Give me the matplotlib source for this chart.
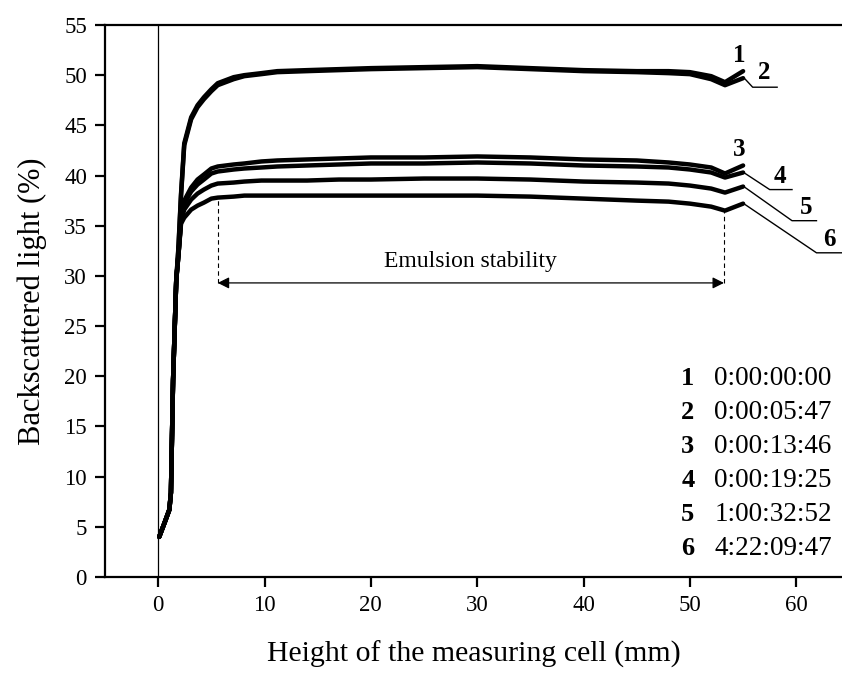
import matplotlib
matplotlib.use('Agg')
import matplotlib.pyplot as plt

# === Global formatting
plt.rcParams['font.family'] = ['Liberation Serif', 'DejaVu Serif']
plt.rcParams['xtick.direction'] = 'out'
plt.rcParams['ytick.direction'] = 'out'
plt.rcParams['xtick.major.size'] = 7
plt.rcParams['ytick.major.size'] = 7
plt.rcParams['xtick.major.width'] = 1.6
plt.rcParams['ytick.major.width'] = 1.6
plt.rcParams['xtick.major.pad'] = 6
plt.rcParams['ytick.major.pad'] = 6
plt.rcParams['axes.linewidth'] = 1.6
plt.rcParams['xtick.labelsize'] = 16.5
plt.rcParams['ytick.labelsize'] = 16.5

# === Data
height_mm = [0.1, 0.6, 1.05, 1.2, 1.4, 1.7, 1.9, 2.15, 2.45, 3.1, 3.7, 4.3,
             5.0, 5.6, 7.1, 8.1, 9.7, 11.2, 14, 17, 20, 25, 30, 35, 40, 45,
             48, 50, 52, 53.3, 55]

bs_1 = [4.0, 5.4, 6.7, 8.4, 19.6, 29.6, 32.8, 38.2, 43.2, 45.8, 47.0, 47.8,
        48.6, 49.2, 49.8, 50.0, 50.2, 50.4, 50.5, 50.6, 50.7, 50.8, 50.9,
        50.7, 50.5, 50.4, 50.4, 50.3, 49.9, 49.3, 50.4]
bs_2 = [4.0, 5.4, 6.7, 8.4, 19.6, 29.6, 32.6, 38.0, 43.0, 45.6, 46.8, 47.6,
        48.4, 49.0, 49.6, 49.9, 50.1, 50.3, 50.4, 50.5, 50.6, 50.7, 50.8,
        50.6, 50.4, 50.3, 50.2, 50.1, 49.6, 49.0, 49.7]
bs_3 = [4.0, 5.4, 6.7, 8.4, 19.6, 29.6, 32.0, 35.6, 37.5, 38.8, 39.6, 40.1,
        40.7, 40.9, 41.1, 41.2, 41.4, 41.5, 41.6, 41.7, 41.8, 41.8, 41.9,
        41.8, 41.6, 41.5, 41.3, 41.1, 40.8, 40.2, 41.0]
bs_4 = [4.0, 5.4, 6.7, 8.4, 19.6, 29.6, 32.0, 35.6, 37.2, 38.4, 39.1, 39.6,
        40.2, 40.4, 40.6, 40.7, 40.8, 40.9, 41.0, 41.1, 41.2, 41.2, 41.3,
        41.2, 41.0, 40.9, 40.8, 40.6, 40.3, 39.8, 40.3]
bs_5 = [4.0, 5.4, 6.7, 8.4, 19.6, 29.6, 32.0, 35.4, 36.6, 37.6, 38.2, 38.6,
        39.0, 39.2, 39.3, 39.4, 39.5, 39.5, 39.5, 39.6, 39.6, 39.7, 39.7,
        39.6, 39.4, 39.3, 39.2, 39.0, 38.7, 38.3, 38.9]
bs_6 = [4.0, 5.4, 6.7, 8.4, 19.6, 29.6, 32.0, 35.2, 35.8, 36.6, 37.0, 37.3,
        37.7, 37.8, 37.9, 38.0, 38.0, 38.0, 38.0, 38.0, 38.0, 38.0, 38.0,
        37.9, 37.7, 37.5, 37.4, 37.2, 36.9, 36.5, 37.2]

curves = [bs_1, bs_2, bs_3, bs_4, bs_5, bs_6]
curve_ids = ['1', '2', '3', '4', '5', '6']
times = ['0:00:00:00', '0:00:05:47', '0:00:13:46',
         '0:00:19:25', '1:00:32:52', '4:22:09:47']

# label anchors: (label x, label y, leader end x, leader end y, underline end x)
label_pos = [(54.6, 52.0, None, None, None),
             (57.0, 50.3, 55.9, 48.8, 58.2),
             (54.6, 42.6, None, None, None),
             (58.5, 39.9, 57.5, 38.6, 59.6),
             (60.9, 36.8, 59.6, 35.5, 61.9),
             (63.1, 33.6, 61.9, 32.3, 64.3)]

stab_left = 5.6
stab_right = 53.2
stab_y = 29.3

fig = plt.figure(figsize=(8.42, 6.75), dpi=100)
ax = fig.add_axes([0.1247, 0.1452, 0.8753, 0.8178])

for ys in curves:
    ax.plot(height_mm, ys, color='black', lw=3.2, solid_capstyle='round',
            solid_joinstyle='round')

# thin vertical line at zero height
ax.axvline(0, color='black', lw=0.9)

# curve labels with leaders
for (cid, ys, pos) in zip(curve_ids, curves, label_pos):
    lx, ly, ex, ey, ux = pos
    ax.text(lx, ly, cid, fontsize=18, fontweight='bold',
            ha='center', va='center', clip_on=False)
    if ex is not None:
        ax.plot([height_mm[-1] + 0.2, ex, ux], [ys[-1] - 0.1, ey, ey],
                color='black', lw=1.0, clip_on=False)

# emulsion stability marker
ax.plot([stab_left, stab_left], [stab_y, 37.6], color='black', lw=0.8,
        ls=(0, (4, 3)))
ax.plot([stab_right, stab_right], [stab_y, 36.5], color='black', lw=0.8,
        ls=(0, (4, 3)))
ax.annotate('', xy=(stab_right, stab_y), xytext=(stab_left, stab_y),
            arrowprops=dict(arrowstyle='<|-|>', color='black', lw=0.9,
                            mutation_scale=17, shrinkA=0, shrinkB=0))
ax.text((stab_left + stab_right) / 2, 31.4, 'Emulsion stability',
        fontsize=17, ha='center', va='center')

# legend table
for i, (cid, t) in enumerate(zip(curve_ids, times)):
    yy = 19.8 - i * 3.4
    ax.text(49.8, yy, cid, fontsize=19, fontweight='bold',
            ha='center', va='center')
    ax.text(52.3, yy, t, fontsize=19.5, ha='left', va='center')

ax.set_xlim(-5, 64.3)
ax.set_ylim(0, 55)
ax.set_xticks(range(0, 61, 10))
ax.set_yticks(range(0, 56, 5))
ax.spines['right'].set_visible(False)

ax.set_xlabel('Height of the measuring cell (mm)', fontsize=21.5, labelpad=18)
ax.set_ylabel('Backscattered light (%)', fontsize=22, labelpad=12)

plt.savefig('out.png', dpi=100)
plt.close()
